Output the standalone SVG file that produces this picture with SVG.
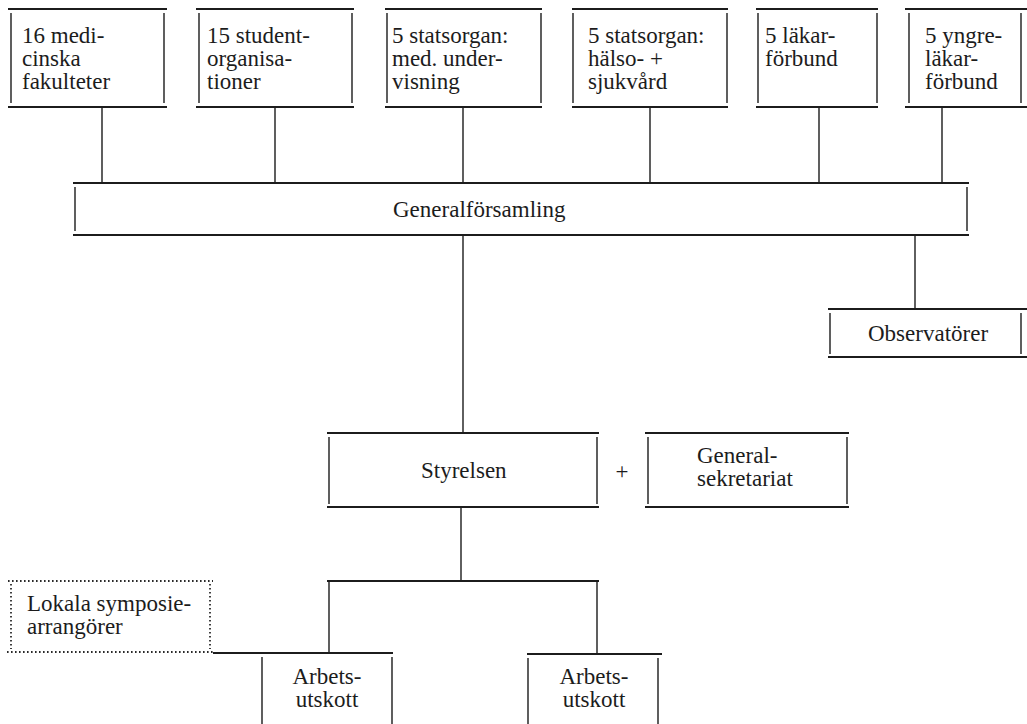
<svg xmlns="http://www.w3.org/2000/svg" width="1027" height="724" viewBox="0 0 1027 724">
<style>
.t{font-family:"Liberation Serif","Times New Roman",serif;font-size:23px;fill:#1c1c1c}
.h{stroke:#1c1c1c;stroke-width:2.2;fill:none}
.v{stroke:#1c1c1c;stroke-width:1.4;fill:none}
.c{stroke:#1c1c1c;stroke-width:1.4;fill:none}
.d{stroke:#2a2a2a;stroke-width:1.8;stroke-dasharray:1.6 2.4;fill:none}
</style>
<rect width="1027" height="724" fill="#fff"/>
<g id="connectors">
<path class="c" d="M102 107V183M275 107V183M463 107V183M650 107V183M819 107V183M942 107V183"/>
<path class="c" d="M915 235V309"/>
<path class="c" d="M463 235V433"/>
<path class="c" d="M461 507V581"/>
<path class="h" d="M327 581H599"/>
<path class="c" d="M329 581V653M597 581V653"/>
</g>
<g id="n1"><path class="h" d="M8 9H167M8 107H167"/><path class="v" d="M11 13V103M164 13V103"/>
<text class="t"><tspan x="22" y="43">16 medi-</tspan><tspan x="22" y="66">cinska</tspan><tspan x="22" y="89">fakulteter</tspan></text></g>
<g id="n2"><path class="h" d="M196 9H354M196 107H354"/><path class="v" d="M199 13V103M352 13V103"/>
<text class="t"><tspan x="207" y="43">15 student-</tspan><tspan x="207" y="66">organisa-</tspan><tspan x="207" y="89">tioner</tspan></text></g>
<g id="n3"><path class="h" d="M385 9H542M385 107H542"/><path class="v" d="M387 13V103M541 13V103"/>
<text class="t"><tspan x="392" y="43">5 statsorgan:</tspan><tspan x="392" y="66">med. under-</tspan><tspan x="392" y="89">visning</tspan></text></g>
<g id="n4"><path class="h" d="M572 9H728M572 107H728"/><path class="v" d="M573 13V103M727 13V103"/>
<text class="t"><tspan x="588" y="43">5 statsorgan:</tspan><tspan x="588" y="66">hälso- +</tspan><tspan x="588" y="89">sjukvård</tspan></text></g>
<g id="n5"><path class="h" d="M756 9H878M756 107H878"/><path class="v" d="M758 13V103M877 13V103"/>
<text class="t"><tspan x="765" y="43">5 läkar-</tspan><tspan x="765" y="66">förbund</tspan></text></g>
<g id="n6"><path class="h" d="M905 9H1027M905 107H1027"/><path class="v" d="M909 13V103M1021 13V103"/>
<text class="t"><tspan x="925" y="43">5 yngre-</tspan><tspan x="925" y="66">läkar-</tspan><tspan x="925" y="89">förbund</tspan></text></g>
<g id="n7"><path class="h" d="M73 183H969M73 235H969"/><path class="v" d="M75 187V231M967 187V231"/>
<text class="t" x="393" y="217">Generalförsamling</text></g>
<g id="n8"><path class="h" d="M828 309H1027M828 357H1027"/><path class="v" d="M830 313V354M1021 313V354"/>
<text class="t" x="868" y="341">Observatörer</text></g>
<g id="n9"><path class="h" d="M327 433H599M327 507H599"/><path class="v" d="M329 437V504M597 437V504"/>
<text class="t" x="421" y="478">Styrelsen</text></g>
<text class="t" x="622" y="479" text-anchor="middle">+</text>
<g id="n10"><path class="h" d="M645 433H849M645 507H849"/><path class="v" d="M648 437V504M847 437V504"/>
<text class="t"><tspan x="697" y="463">General-</tspan><tspan x="697" y="486">sekretariat</tspan></text></g>
<g id="n11"><path class="d" d="M8 581H213M7 652H213M11 584V649M210 584V649"/>
<text class="t"><tspan x="27" y="611">Lokala symposie-</tspan><tspan x="27" y="634">arrangörer</tspan></text></g>
<g id="n12"><path class="h" d="M213 653H393"/><path class="v" d="M262 657V724M392 657V724"/>
<text class="t" text-anchor="middle"><tspan x="327" y="684">Arbets-</tspan><tspan x="327" y="707">utskott</tspan></text></g>
<g id="n13"><path class="h" d="M527 654H662"/><path class="v" d="M528 658V724M658 658V724"/>
<text class="t" text-anchor="middle"><tspan x="594" y="684">Arbets-</tspan><tspan x="594" y="707">utskott</tspan></text></g>
</svg>
